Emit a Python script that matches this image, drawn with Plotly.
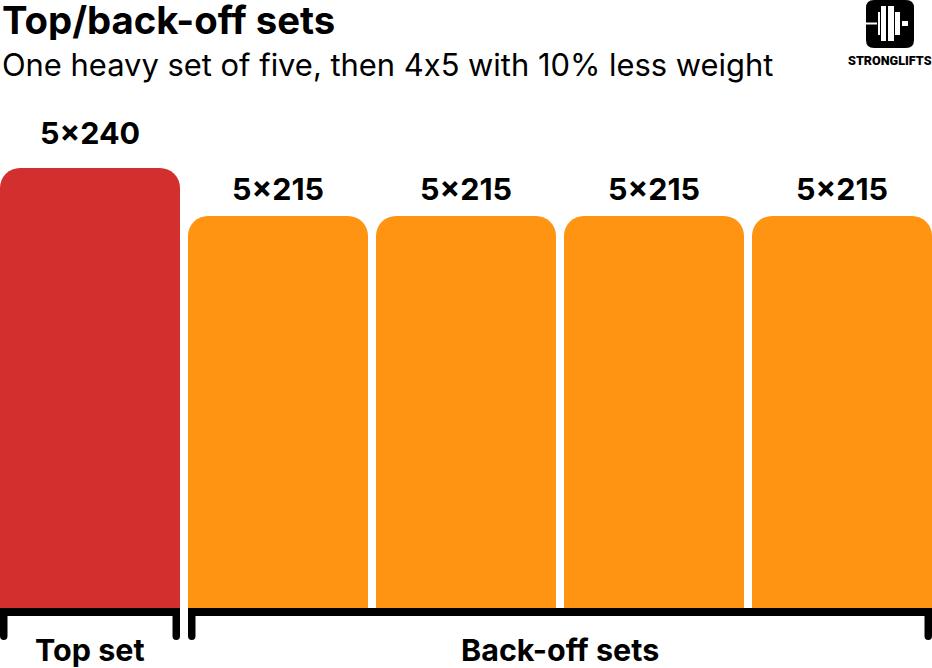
import plotly.graph_objects as go

# values
set_index = [0, 1, 2, 3, 4]
set_reps = [5, 5, 5, 5, 5]
set_weight = [240, 215, 215, 215, 215]
bar_colors = ["#D32F2F", "#FF9312", "#FF9312", "#FF9312", "#FF9312"]

group_names = ["Top set", "Back-off sets"]
group_first = [0, 1]
group_last = [0, 4]

title_text = "Top/back-off sets"
# zero width non joiner keeps Inter from turning the x into a times sign
subtitle_text = "One heavy set of five, then 4\u200cx\u200c5 with 10% less weight"
logo_text = "STRONGLIFTS"

WIDTH = 932
HEIGHT = 668
BASE_PX = 608
FONT = "Inter"
BLACK = "#000000"

# axis starts a little above zero, the bars in the picture are not to scale from 0
y_start = 10.6
px_per_unit = 440 / (240 - y_start)
half_bar = 90 / 188


def px_x(x):
    return x / WIDTH


def px_y(y):
    return (BASE_PX - y) / BASE_PX


def rect(x0, y0, x1, y1, color="#FFFFFF"):
    return dict(type="rect", xref="paper", yref="paper",
                x0=px_x(x0), x1=px_x(x1), y0=px_y(y0), y1=px_y(y1),
                fillcolor=color, line_width=0, layer="above")


def bracket(first, last):
    # filled outline with rounded tick ends, x in axis units, y in paper units
    left = first - half_bar
    right = last + half_bar
    tick = 7.5 / 188
    top = px_y(BASE_PX)
    bar = px_y(616)
    end = px_y(636)
    low = px_y(640)
    path = (
        f"M {left},{top} L {right},{top} L {right},{end} "
        f"Q {right},{low} {right - tick / 2},{low} Q {right - tick},{low} {right - tick},{end} "
        f"L {right - tick},{bar} L {left + tick},{bar} L {left + tick},{end} "
        f"Q {left + tick},{low} {left + tick / 2},{low} Q {left},{low} {left},{end} Z"
    )
    return dict(type="path", xref="x", yref="paper", path=path,
                fillcolor=BLACK, line_width=0, layer="above")


def page_text(x, y, text, size, weight, xanchor="left", family=FONT, height=None):
    fig.add_annotation(
        xref="paper", yref="paper", x=px_x(x), y=px_y(y),
        xanchor=xanchor, yanchor="middle", text=text, showarrow=False,
        height=height,
        font=dict(family=family, size=size, weight=weight))


fig = go.Figure()

fig.add_trace(go.Bar(
    x=set_index,
    y=set_weight,
    marker=dict(color=bar_colors, line_width=0),
    hoverinfo="skip"))

fig.update_layout(
    width=WIDTH,
    height=HEIGHT,
    margin=dict(l=0, r=0, t=0, b=HEIGHT - BASE_PX, pad=0),
    paper_bgcolor="#FFFFFF",
    plot_bgcolor="#FFFFFF",
    showlegend=False,
    bargap=8 / 188,
    barcornerradius=20,
    font=dict(family=FONT, color=BLACK))

fig.update_xaxes(visible=False, range=[-half_bar, 4 + half_bar])
fig.update_yaxes(visible=False, range=[y_start, y_start + BASE_PX / px_per_unit])

for i, reps, weight in zip(set_index, set_reps, set_weight):
    fig.add_annotation(
        x=i, y=weight,
        text=f"{reps}×{weight}",
        showarrow=False,
        yanchor="bottom",
        yshift=15 if i == 0 else 7,
        font=dict(size=30.5, weight=700))

for name, first, last in zip(group_names, group_first, group_last):
    fig.add_annotation(
        x=(first + last) / 2, y=px_y(649),
        yref="paper",
        yanchor="middle",
        text=name,
        showarrow=False,
        font=dict(size=30.5, weight=700))
    fig.add_shape(bracket(first, last))

page_text(0, 20, title_text, 38.3, 650, height=40)
page_text(0, 64, subtitle_text, 30.9, 400)

# logo
fig.add_shape(
    type="path", xref="paper", yref="paper", fillcolor=BLACK, line_width=0,
    path=(
        f"M {px_x(874)},{px_y(0)} L {px_x(906)},{px_y(0)} "
        f"Q {px_x(914)},{px_y(0)} {px_x(914)},{px_y(8)} L {px_x(914)},{px_y(40)} "
        f"Q {px_x(914)},{px_y(48)} {px_x(906)},{px_y(48)} L {px_x(874)},{px_y(48)} "
        f"Q {px_x(866)},{px_y(48)} {px_x(866)},{px_y(40)} L {px_x(866)},{px_y(8)} "
        f"Q {px_x(866)},{px_y(0)} {px_x(874)},{px_y(0)} Z"
    ))
for box in [
    (866, 22.5, 877, 24.5),
    (878, 12, 880, 35),
    (881, 6, 886, 41),
    (888, 6, 894, 41),
    (895, 12, 900, 35),
    (902, 21, 908, 26),
]:
    fig.add_shape(rect(*box))
page_text(890, 61, logo_text, 12.6, 900, xanchor="center", family="Roboto")

fig.write_html(
    "out.html",
    config=dict(displayModeBar=False),
    post_script="document.body.style.margin='0';document.body.style.overflow='hidden';")
